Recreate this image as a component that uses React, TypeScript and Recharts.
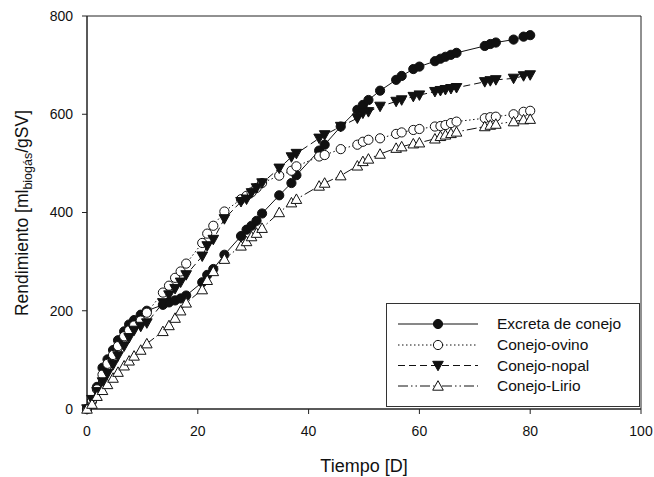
import { LineChart, Line, XAxis, YAxis, Legend, ReferenceArea } from 'recharts';

// sampling days (shared by the four reactors)
const days = [
  0, 0.9, 1.8, 2.8, 3.7, 4.7, 5.6, 6.7, 7.6, 8.5, 9.7, 10.8, 13.7, 14.8, 15.9, 16.9, 17.9,
  20.8, 21.7, 22.8, 24.8, 27.8, 28.8, 29.7, 30.6, 31.6, 34.7, 36.9, 37.8, 41.9, 42.9, 45.8,
  48.8, 49.8, 50.8, 52.9, 55.8, 56.8, 58.9, 60, 62.8, 63.8, 64.7, 65.7, 66.7, 71.8, 72.8,
  73.8, 77, 78.8, 80,
];

const excreta = [
  0, 16, 45, 84, 101, 120, 140, 158, 172, 181, 192, 200, 212, 217, 221, 225, 231,
  258, 273, 285, 314, 352, 365, 373, 383, 398, 435, 460, 476, 526, 538, 575,
  609, 619, 629, 648, 670, 678, 692, 697, 708, 713, 717, 721, 725, 739, 743,
  746, 752, 758, 761,
];

const ovino = [
  0, 18, 40, 70, 92, 110, 128, 148, 160, 170, 180, 196, 237, 251, 267, 280, 296,
  338, 357, 373, 402, 427, 434, 441, 450, 460, 475, 485, 494, 514, 517, 529,
  538, 544, 548, 551, 560, 563, 568, 570, 575, 576, 578, 582, 585, 592, 594,
  595, 600, 605, 607,
];

const nopal = [
  0, 19, 35, 55, 72, 90, 108, 128, 145, 160, 168, 175, 216, 232, 245, 258, 273,
  311, 332, 345, 387, 422, 427, 440, 450, 460, 490, 513, 520, 551, 558, 575,
  592, 602, 605, 616, 626, 629, 636, 639, 646, 648, 650, 652, 654, 666, 668,
  670, 673, 678, 680,
];

const lirio = [
  0, 10, 26, 38, 50, 63, 75, 88, 98, 108, 120, 133, 158, 170, 185, 200, 216,
  243, 262, 280, 305, 332, 341, 351, 358, 368, 400, 420, 427, 454, 460, 475,
  495, 504, 509, 519, 531, 534, 540, 542, 550, 555, 558, 561, 564, 575, 578,
  580, 585, 589, 590,
];

const xTicks = [0, 20, 40, 60, 80, 100];
const yTicks = [0, 200, 400, 600, 800];

const data = days.map((d, i) => ({
  day: d,
  excreta: excreta[i],
  ovino: ovino[i],
  nopal: nopal[i],
  lirio: lirio[i],
}));

const FONT = '"Liberation Sans", Arial, sans-serif';
const INK = '#111';

type Shape = 'dot' | 'ring' | 'down' | 'up';

const series: { key: string; name: string; shape: Shape; dash?: string }[] = [
  { key: 'excreta', name: 'Excreta de conejo', shape: 'dot' },
  { key: 'ovino', name: 'Conejo-ovino', shape: 'ring', dash: '1.5 2.5' },
  { key: 'nopal', name: 'Conejo-nopal', shape: 'down', dash: '7 4' },
  { key: 'lirio', name: 'Conejo-Lirio', shape: 'up', dash: '10 3 1.5 3 1.5 3' },
];

function marker(shape: Shape, cx: number, cy: number, key?: string) {
  if (cx == null || cy == null) return <g key={key} />;
  switch (shape) {
    case 'dot':
      return <circle key={key} cx={cx} cy={cy} r={4.6} fill={INK} stroke={INK} />;
    case 'ring':
      return <circle key={key} cx={cx} cy={cy} r={4.6} fill="#fff" stroke={INK} strokeWidth={1} />;
    case 'down':
      return (
        <polygon
          key={key}
          points={`${cx - 5.3},${cy - 4.2} ${cx + 5.3},${cy - 4.2} ${cx},${cy + 5.3}`}
          fill={INK}
          stroke={INK}
        />
      );
    default:
      return (
        <polygon
          key={key}
          points={`${cx - 5.3},${cy + 4.2} ${cx + 5.3},${cy + 4.2} ${cx},${cy - 5.3}`}
          fill="#fff"
          stroke={INK}
          strokeWidth={1}
        />
      );
  }
}

function LegendBox() {
  const rows = [21, 42, 62.5, 83];
  return (
    <svg width={254} height={105} style={{ display: 'block' }}>
      <rect x={0.5} y={0.5} width={253} height={103} fill="#fff" stroke="#333" />
      {series.map((s, i) => (
        <g key={s.key}>
          <line x1={12} x2={92} y1={rows[i]} y2={rows[i]} stroke={INK} strokeDasharray={s.dash} />
          {marker(s.shape, 52, rows[i])}
          <text x={111} y={rows[i] + 5} fontSize={15.5} fontFamily={FONT} fill={INK}>
            {s.name}
          </text>
        </g>
      ))}
    </svg>
  );
}

function YTitle() {
  return (
    <text
      transform="translate(28,213) rotate(-90)"
      textAnchor="middle"
      fontSize={17.5}
      fontFamily={FONT}
      fill={INK}
    >
      Rendimiento [ml
      <tspan fontSize={12.5} dy={4}>biogás</tspan>
      <tspan dy={-4}>/gSV]</tspan>
    </text>
  );
}

function XTitle() {
  return (
    <text x={364} y={472} textAnchor="middle" fontSize={18} fontFamily={FONT} fill={INK}>
      Tiempo [D]
    </text>
  );
}

export default function App() {
  const tick = { fontSize: 14, fill: INK, fontFamily: FONT };
  return (
    <div style={{ position: 'absolute', left: 0, top: 0, background: '#fff' }}>
      <LineChart width={654} height={477} data={data} margin={{ top: 16, right: 13, bottom: 38, left: 27 }}>
        <XAxis
          dataKey="day"
          type="number"
          domain={[0, 100]}
          ticks={xTicks}
          height={30}
          tick={tick}
          tickSize={5}
          tickMargin={12}
          stroke="#222"
          label={{ content: () => <XTitle /> }}
        />
        <YAxis
          type="number"
          domain={[0, 800]}
          ticks={yTicks}
          width={60}
          tick={tick}
          tickSize={5}
          tickMargin={9}
          stroke="#222"
          label={{ content: () => <YTitle /> }}
        />
        <ReferenceArea x1={0} x2={100} y1={0} y2={800} fill="none" stroke="#222" ifOverflow="visible" />
        {series.map((s) => (
          <Line
            key={s.key}
            dataKey={s.key}
            name={s.name}
            type="linear"
            stroke={INK}
            strokeWidth={1}
            strokeDasharray={s.dash}
            dot={(p: any) => marker(s.shape, p.cx, p.cy, `${s.key}-${p.index}`)}
            activeDot={false}
            isAnimationActive={false}
          />
        ))}
        <Legend
          layout="horizontal"
          align="center"
          verticalAlign="middle"
          wrapperStyle={{ left: 386, top: 303, width: 254, height: 105 }}
          content={() => <LegendBox />}
        />
      </LineChart>
    </div>
  );
}
